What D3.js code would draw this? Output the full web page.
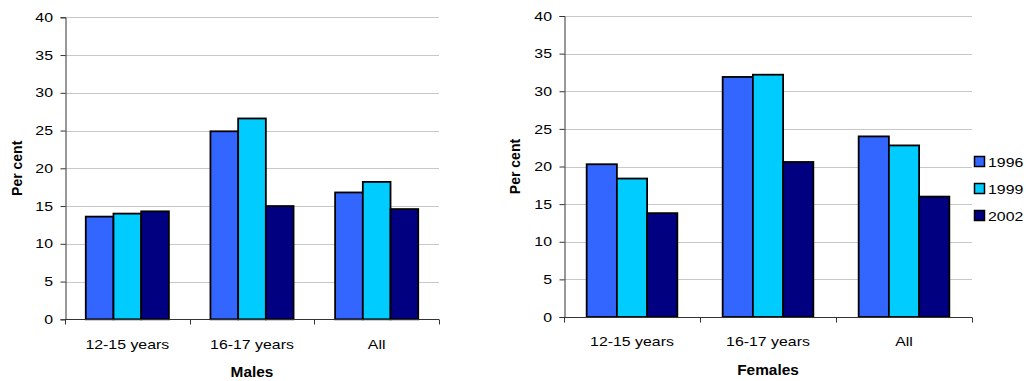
<!DOCTYPE html>
<html>
<head>
<meta charset="utf-8">
<script src="https://cdn.jsdelivr.net/npm/d3@7"></script>
<style>
  html, body { margin: 0; padding: 0; background: #fff; }
  svg { display: block; }
  text { font-family: "Liberation Sans", Arial, sans-serif; fill: #000; }
</style>
</head>
<body>
<svg id="chart" width="1026" height="381"></svg>
<script>
// Age groups along the x axis
const categories = ["12-15 years", "16-17 years", "All"];
// Survey years (series)
const years = ["1996", "1999", "2002"];
const yearColors = ["#3366FF", "#00CCFF", "#000080"];
// Percentages per age group, one array per survey year
const males1996 = [13.6, 24.9, 16.8];
const males1999 = [14.0, 26.6, 18.2];
const males2002 = [14.3, 15.0, 14.6];
const females1996 = [20.3, 31.9, 24.0];
const females1999 = [18.4, 32.2, 22.8];
const females2002 = [13.8, 20.6, 16.0];
const yTicks = [0, 5, 10, 15, 20, 25, 30, 35, 40];

// horizontal widening applied to the text faces
const SX = 1.22;
const SX_TITLE = 1.1;

const svg = d3.select("#chart");

// place wide text: x is the on-screen anchor position
function wideText(sel, x, y, sx = SX) {
  return sel.attr("x", x / sx).attr("y", y).attr("transform", `scale(${sx},1)`);
}

function panel(cfg) {
  const { left, right, top, bottom, series, title, titleY, labelX, catY } = cfg;
  const g = svg.append("g");

  const x = d3.scaleBand().domain(categories).range([left, right]).paddingInner(0).paddingOuter(0);
  const y = d3.scaleLinear().domain([0, 40]).range([bottom, top]);
  const barW = x.bandwidth() / 4.5;
  const sub = d3.scaleBand().domain(years).range([barW * 0.75, barW * 3.75]);

  // horizontal gridlines
  g.append("g").selectAll("line").data(yTicks.filter(t => t > 0)).join("line")
    .attr("x1", left).attr("x2", right)
    .attr("y1", d => Math.round(y(d)) + 0.5).attr("y2", d => Math.round(y(d)) + 0.5)
    .attr("stroke", "#c8c8c8").attr("stroke-width", 1);

  // y axis
  const ya = g.append("g").attr("transform", `translate(${left + 0.5},0)`)
    .call(d3.axisLeft(y).tickValues(yTicks).tickSize(5).tickPadding(7));
  ya.select(".domain").attr("stroke", "#333");
  ya.selectAll(".tick line").attr("stroke", "#333");
  ya.selectAll("text").style("font-size", "13px").attr("fill", "#000")
    .attr("x", -12.5 / SX).attr("transform", `scale(${SX},1)`);

  // bars
  years.forEach((yr, i) => {
    g.append("g").selectAll("rect").data(series[i]).join("rect")
      .attr("x", (d, j) => x(categories[j]) + sub(yr))
      .attr("y", d => y(d))
      .attr("width", sub.bandwidth())
      .attr("height", d => y(0) - y(d))
      .attr("fill", yearColors[i])
      .attr("stroke", "#000").attr("stroke-width", 1.8);
  });

  // x axis with ticks at category boundaries
  const xa = g.append("g").attr("transform", `translate(0,${Math.round(bottom) + 0.5})`);
  xa.append("line").attr("x1", left).attr("x2", right).attr("stroke", "#333");
  const bounds = categories.map(c => x(c)).concat([right]);
  xa.selectAll("line.tk").data(bounds).join("line").attr("class", "tk")
    .attr("x1", d => Math.round(d) + 0.5).attr("x2", d => Math.round(d) + 0.5)
    .attr("y1", 0).attr("y2", 5).attr("stroke", "#333");
  xa.selectAll("text").data(categories).join("text")
    .each(function (d) { wideText(d3.select(this), x(d) + x.bandwidth() / 2, catY - Math.round(bottom) - 0.5); })
    .attr("text-anchor", "middle").style("font-size", "13px").text(d => d);

  // axis titles
  wideText(g.append("text"), (left + right) / 2, titleY, SX_TITLE)
    .attr("text-anchor", "middle").style("font-size", "14px").style("font-weight", "bold").text(title);
  g.append("text").attr("transform", `translate(${labelX},${(top + bottom) / 2}) rotate(-90)`)
    .attr("text-anchor", "middle").style("font-size", "14px").style("font-weight", "bold").text("Per cent");
}

panel({ left: 65, right: 439, top: 17.3, bottom: 319.3,
  series: [males1996, males1999, males2002], title: "Males", titleY: 377.5, labelX: 22, catY: 349.3 });
panel({ left: 564, right: 972, top: 16, bottom: 317,
  series: [females1996, females1999, females2002], title: "Females", titleY: 375.5, labelX: 520, catY: 346 });

// legend
const legend = svg.append("g").attr("transform", "translate(974,156)");
years.forEach((yr, i) => {
  const row = legend.append("g").attr("transform", `translate(0,${i * 27})`);
  row.append("rect").attr("x", 0.5).attr("y", 0.5).attr("width", 10).attr("height", 10)
    .attr("fill", yearColors[i]).attr("stroke", "#000").attr("stroke-width", 1.5);
  wideText(row.append("text"), 14, 11).style("font-size", "13px").text(yr);
});
</script>
</body>
</html>
